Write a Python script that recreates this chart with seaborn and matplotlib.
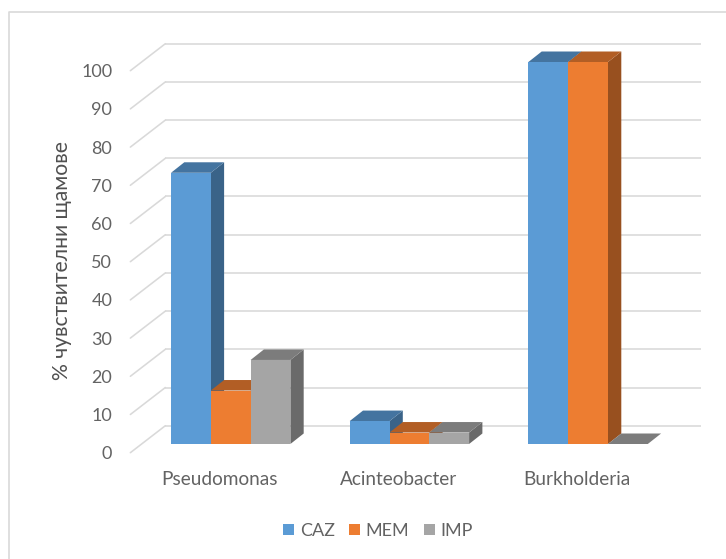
import matplotlib
matplotlib.use("Agg")
import matplotlib.pyplot as plt
from matplotlib.lines import Line2D
from matplotlib.patches import Polygon
from matplotlib.transforms import Affine2D
import pandas as pd
import seaborn as sns

organisms = ["Pseudomonas", "Acinteobacter", "Burkholderia"]
caz = [71, 6, 100]
mem = [14, 3, 100]
imp = [22, 3, 0]
y_ticks = list(range(0, 101, 10))
y_title = "% чувствителни щамове"

W, H, DPI = 726, 559, 100
TEXT = "#636363"
GRID = "#D9D9D9"
BAR_COLORS = {"CAZ": "#5B9BD5", "MEM": "#ED7D31", "IMP": "#A5A5A5"}

# Pixel offsets of the oblique projection, measured from the front floor edge
BAR_FRONT = (11.0, 8.7)
BAR_BACK = (24.3, 19.2)
WALL = (35.0, 27.0)

sns.set_theme(style="white")
plt.rcParams["font.family"] = ["Lato", "Open Sans", "DejaVu Sans"]

df = pd.DataFrame({"organism": organisms, "CAZ": caz, "MEM": mem, "IMP": imp}).melt(
    id_vars="organism", var_name="drug", value_name="percent"
)

fig = plt.figure(figsize=(W / DPI, H / DPI), dpi=DPI, facecolor="white")
ax = fig.add_axes([130.35 / W, (H - 452.7) / H, 536.1 / W, 382.0 / H])
ax.set_facecolor("none")

sns.barplot(
    data=df, x="organism", y="percent", hue="drug", palette=BAR_COLORS,
    width=0.668, gap=0, saturation=1, linewidth=0, ax=ax,
)
ax.set_xlim(-0.5, 2.5)
ax.set_ylim(0, 100)
sns.despine(ax=ax, left=True, bottom=True)


def shifted(offset):
    return ax.transData + Affine2D().translate(*offset)


def darker(color, factor):
    r, g, b = matplotlib.colors.to_rgb(color)
    return (r * factor, g * factor, b * factor)


# Back wall with its grid lines and the slanted lines running to the front
right = ax.get_xlim()[1]
left = ax.get_xlim()[0]
for value in y_ticks:
    ax.plot([left, right], [value, value], transform=shifted(WALL),
            color=GRID, lw=1.15, clip_on=False, zorder=1, solid_capstyle="butt")
    x0, y0 = ax.transData.transform((left, value))
    ax.add_line(Line2D([x0, x0 + WALL[0]], [y0, y0 + WALL[1]], transform=None,
                       color=GRID, lw=1.15, zorder=1, clip_on=False))

# Extrude each seaborn bar: the side and top faces are derived from its rectangle
order = 2
for g in range(len(organisms)):
    for container, drug in zip(ax.containers, BAR_COLORS):
        patch = container.patches[g]
        color = BAR_COLORS[drug]
        x0, x1 = patch.get_x(), patch.get_x() + patch.get_width()
        top = patch.get_height()
        dx = (BAR_BACK[0] - BAR_FRONT[0]) / ax.transData.get_matrix()[0, 0]
        dy = (BAR_BACK[1] - BAR_FRONT[1]) / ax.transData.get_matrix()[1, 1]
        side = Polygon([(x1, 0), (x1 + dx, dy), (x1 + dx, top + dy), (x1, top)],
                       facecolor=darker(color, 0.64), edgecolor="none",
                       transform=shifted(BAR_FRONT), clip_on=False, zorder=order)
        cap = Polygon([(x0, top), (x0 + dx, top + dy), (x1 + dx, top + dy), (x1, top)],
                      facecolor=darker(color, 0.75), edgecolor="none",
                      transform=shifted(BAR_FRONT), clip_on=False, zorder=order + 0.5)
        ax.add_patch(side)
        ax.add_patch(cap)
        patch.set_transform(shifted(BAR_FRONT))
        patch.set_clip_on(False)
        patch.set_zorder(50)
        order += 1

ax.set_yticks(y_ticks)
ax.tick_params(axis="y", length=0, pad=13, labelsize=13, labelcolor=TEXT)
ax.tick_params(axis="x", length=0, pad=13, labelsize=13.7, labelcolor=TEXT)
ax.set_xlabel("")
ax.set_ylabel("")
fig.text(62 / W, (H - 260) / H, y_title, rotation=90, ha="center", va="center",
         fontsize=15.2, color="#505050")

sns.move_legend(
    ax, "center", bbox_to_anchor=(378 / W, (H - 531) / H),
    bbox_transform=fig.transFigure, ncol=3, title=None, frameon=False,
    fontsize=13, labelcolor=TEXT, handlelength=0.61, handleheight=0.61,
    handletextpad=0.3, columnspacing=0.8, borderpad=0,
)

# Chart frame: only its top and left edges fall inside the image
fig.add_artist(Line2D([9 / W, 9 / W, 1], [0, (H - 12) / H, (H - 12) / H],
                      transform=fig.transFigure, color=GRID, lw=1.2))

fig.savefig("out.png", dpi=DPI, facecolor="white")
